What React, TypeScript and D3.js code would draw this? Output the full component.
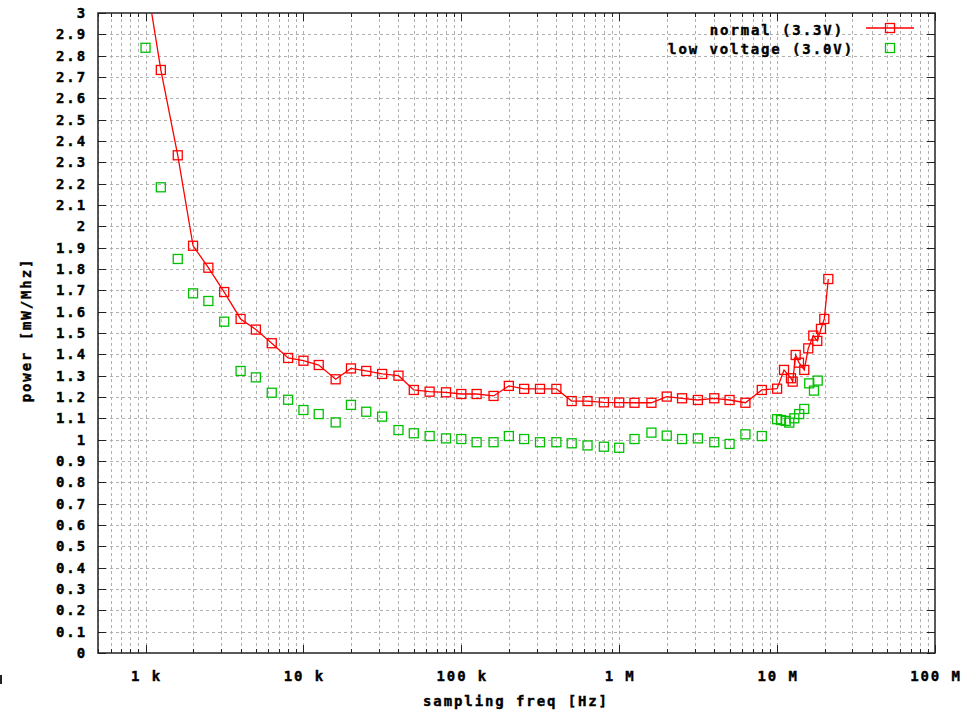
import React from "react";
import * as d3 from "d3";

// ---- data ----
const normalFreq = [
  1e3, 1.25e3, 1.6e3, 2e3, 2.5e3, 3.15e3, 4e3, 5e3, 6.3e3, 8e3,
  1e4, 1.25e4, 1.6e4, 2e4, 2.5e4, 3.15e4, 4e4, 5e4, 6.3e4, 8e4,
  1e5, 1.25e5, 1.6e5, 2e5, 2.5e5, 3.15e5, 4e5, 5e5, 6.3e5, 8e5,
  1e6, 1.25e6, 1.6e6, 2e6, 2.5e6, 3.15e6, 4e6, 5e6, 6.3e6, 8e6,
  1e7, 1.106e7, 1.224e7, 1.255e7, 1.311e7, 1.376e7, 1.486e7, 1.575e7, 1.695e7, 1.796e7, 1.896e7, 1.99e7, 2.11e7,
];
const normalPower = [
  3.18, 2.733, 2.333, 1.909, 1.806, 1.692, 1.566, 1.516, 1.452, 1.383,
  1.37, 1.35, 1.283, 1.334, 1.322, 1.308, 1.3, 1.233, 1.225, 1.222,
  1.214, 1.214, 1.205, 1.252, 1.238, 1.238, 1.238, 1.181, 1.181, 1.175,
  1.174, 1.173, 1.173, 1.202, 1.194, 1.186, 1.194, 1.186, 1.173, 1.233,
  1.239, 1.327, 1.288, 1.272, 1.397, 1.361, 1.327, 1.428, 1.488, 1.463, 1.519, 1.566, 1.753,
];
const lowFreq = [
  1e3, 1.25e3, 1.6e3, 2e3, 2.5e3, 3.15e3, 4e3, 5e3, 6.3e3, 8e3,
  1e4, 1.25e4, 1.6e4, 2e4, 2.5e4, 3.15e4, 4e4, 5e4, 6.3e4, 8e4,
  1e5, 1.25e5, 1.6e5, 2e5, 2.5e5, 3.15e5, 4e5, 5e5, 6.3e5, 8e5,
  1e6, 1.25e6, 1.6e6, 2e6, 2.5e6, 3.15e6, 4e6, 5e6, 6.3e6, 8e6,
  1e7, 1.058e7, 1.133e7, 1.194e7, 1.285e7, 1.38e7, 1.486e7, 1.598e7, 1.712e7, 1.807e7,
];
const lowPower = [
  2.837, 2.183, 1.847, 1.686, 1.65, 1.553, 1.322, 1.292, 1.22, 1.187,
  1.139, 1.12, 1.081, 1.163, 1.131, 1.108, 1.045, 1.03, 1.017, 1.006,
  1.003, 0.988, 0.988, 1.017, 1.003, 0.988, 0.988, 0.983, 0.973, 0.967,
  0.962, 1.003, 1.033, 1.019, 1.003, 1.006, 0.988, 0.98, 1.025, 1.017,
  1.096, 1.092, 1.088, 1.08, 1.1, 1.12, 1.144, 1.264, 1.23, 1.277,
];
const xTickValues = [1e3, 1e4, 1e5, 1e6, 1e7, 1e8];
const xTickLabels = ["1 k", "10 k", "100 k", "1 M", "10 M", "100 M"];
const seriesNames = ["normal (3.3V)", "low voltage (3.0V)"];
const xTitle = "sampling freq [Hz]";
const yTitle = "power [mW/Mhz]";

const W = 963, H = 713;
const L = 98, R = 935, T = 13, B = 653;
const RED = "#ff0000";
const GREEN = "#00c000";
const GRID = "#b0b0b0";
const FONT = {
  fontFamily: "'DejaVu Sans Mono', monospace",
  fontWeight: 700 as const,
  fontSize: 14,
  letterSpacing: "1.9px",
};

export default function App() {
  const x = d3.scaleLog().domain([500, 1e8]).range([L, R]);
  const y = d3.scaleLinear().domain([0, 3]).range([B, T]);

  const yTicks = d3.range(0, 31).map((i) => i / 10);
  const minorX: number[] = [];
  for (let e = 2; e <= 7; e++) {
    for (let m = 1; m <= 9; m++) {
      const v = m * Math.pow(10, e);
      if (v >= 500 && v <= 1e8) minorX.push(v);
    }
  }
  const allX = [...minorX, 1e8];

  const normalPts = normalFreq.map((f, i) => [f, normalPower[i]] as [number, number]);
  const lowPts = lowFreq.map((f, i) => [f, lowPower[i]] as [number, number]);
  const line = d3
    .line<[number, number]>()
    .x((d) => x(d[0]))
    .y((d) => y(d[1]));

  const S = 9;
  const sq = (cx: number, cy: number, color: string, key: string | number) => (
    <rect key={key} x={cx - S / 2} y={cy - S / 2} width={S} height={S} fill="none" stroke={color} strokeWidth={1.3} />
  );

  const isMajor = (v: number) => Math.abs(Math.log10(v) - Math.round(Math.log10(v))) < 1e-9;

  return (
    <svg width={W} height={H} style={{ position: "absolute", left: 0, top: 0, background: "#fff" }}>
      <defs>
        <clipPath id="plot">
          <rect x={L} y={T} width={R - L} height={B - T} />
        </clipPath>
      </defs>
      <rect x={0} y={0} width={W} height={H} fill="#fff" />
      {/* grid */}
      <g stroke={GRID} strokeWidth={1} strokeDasharray="3,3" shapeRendering="crispEdges">
        {yTicks.slice(1, -1).map((v) => (
          <line key={"gy" + v} x1={L} x2={R} y1={Math.round(y(v)) + 0.5} y2={Math.round(y(v)) + 0.5} />
        ))}
        {allX.filter((v) => v < 1e8).map((v) => (
          <line key={"gx" + v} x1={Math.round(x(v)) + 0.5} x2={Math.round(x(v)) + 0.5} y1={T} y2={B} />
        ))}
      </g>
      {/* ticks */}
      <g stroke="#222" strokeWidth={1} shapeRendering="crispEdges">
        {yTicks.map((v) => (
          <g key={"ty" + v}>
            <line x1={L} x2={L + 8} y1={Math.round(y(v)) + 0.5} y2={Math.round(y(v)) + 0.5} />
            <line x1={R} x2={R - 8} y1={Math.round(y(v)) + 0.5} y2={Math.round(y(v)) + 0.5} />
          </g>
        ))}
        {allX.map((v) => {
          const len = isMajor(v) ? 8 : 4;
          const px = Math.round(x(v)) + 0.5;
          return (
            <g key={"tx" + v}>
              <line x1={px} x2={px} y1={B} y2={B - len} />
              <line x1={px} x2={px} y1={T} y2={T + len} />
            </g>
          );
        })}
      </g>
      {/* border */}
      <rect x={L} y={T} width={R - L} height={B - T} fill="none" stroke="#222" strokeWidth={1.5} />
      {/* data */}
      <g clipPath="url(#plot)">
        <path d={line(normalPts) || ""} fill="none" stroke={RED} strokeWidth={1.3} />
        {normalPts.map((d, i) => sq(x(d[0]), y(d[1]), RED, "n" + i))}
        {lowPts.map((d, i) => sq(x(d[0]), y(d[1]), GREEN, "l" + i))}
      </g>
      {/* y tick labels */}
      <g style={FONT} fill="#000" stroke="#000" strokeWidth={0.4}>
        {yTicks.map((v) => (
          <text key={"ly" + v} x={87} y={y(v)} textAnchor="end" dominantBaseline="central">
            {String(Number(v.toFixed(1)))}
          </text>
        ))}
        {xTickValues.map((v, i) => (
          <text key={"lx" + v} x={x(v) + 1} y={681} textAnchor="middle">
            {xTickLabels[i]}
          </text>
        ))}
        <text x={516} y={706} textAnchor="middle">{xTitle}</text>
        <text transform={`translate(31,330) rotate(-90)`} textAnchor="middle">{yTitle}</text>
        {/* legend */}
        <text x={844} y={35} textAnchor="end">{seriesNames[0]}</text>
        <text x={854} y={54} textAnchor="end">{seriesNames[1]}</text>
      </g>
      <line x1={866} x2={914} y1={28} y2={28} stroke={RED} strokeWidth={1.3} />
      {sq(890, 28, RED, "legn")}
      {sq(890, 48, GREEN, "legl")}
      <rect x={0} y={675} width={2} height={9} fill="#222" />
    </svg>
  );
}
